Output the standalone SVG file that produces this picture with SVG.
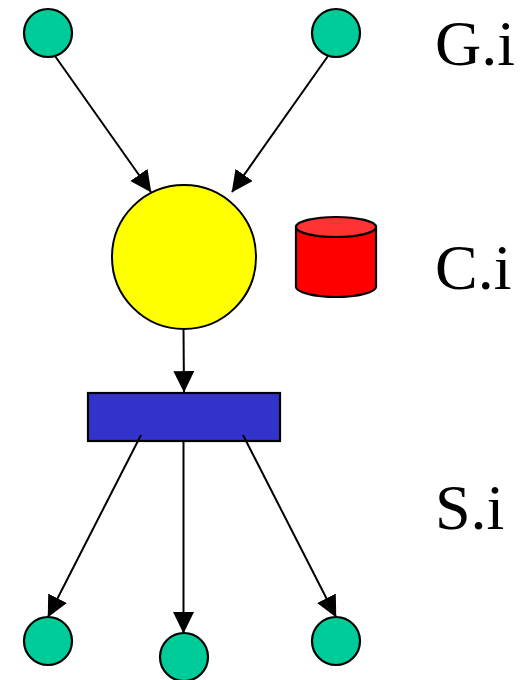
<svg xmlns="http://www.w3.org/2000/svg" width="526" height="680" viewBox="0 0 526 680">
<style>
.g{fill:#00cc99;stroke:#000;stroke-width:2.2}
.c{stroke:#000;stroke-width:2;fill:none;marker-end:url(#a)}
.t{font-family:"Liberation Serif","Times New Roman",serif;font-size:64px;fill:#000}
</style>
<defs>
<marker id="a" markerUnits="userSpaceOnUse" markerWidth="22" markerHeight="22" refX="20" refY="10.5" orient="auto" viewBox="0 0 21 21">
<path d="M0 0.5L20.5 10.5L0 20.5Z" fill="#000"/>
</marker>
</defs>
<rect width="526" height="680" fill="#fff"/>
<g id="node-g1"><circle class="g" cx="48" cy="33" r="24"/></g>
<g id="node-g2"><circle class="g" cx="336" cy="33" r="24"/></g>
<g id="node-c"><circle cx="184" cy="257" r="72" fill="#ffff00" stroke="#000" stroke-width="2"/></g>
<g id="node-cache">
<path d="M296 227V287C296 292 314 297 336 297S376 292 376 287V227Z" fill="#ff0000" stroke="#000" stroke-width="2.2"/>
<ellipse cx="336" cy="227" rx="40" ry="10" fill="#ff3333" stroke="#000" stroke-width="2.2"/>
</g>
<g id="node-s"><rect x="88" y="393" width="192" height="48" fill="#3333cc" stroke="#000" stroke-width="2.2"/></g>
<g id="node-r1"><circle class="g" cx="48" cy="641" r="24"/></g>
<g id="node-r2"><circle class="g" cx="184" cy="657" r="24"/></g>
<g id="node-r3"><circle class="g" cx="336" cy="641" r="24"/></g>
<g id="connectors">
<line class="c" x1="55" y1="56" x2="151" y2="192"/>
<line class="c" x1="328" y1="56" x2="232" y2="192"/>
<line class="c" x1="183.5" y1="329" x2="184" y2="392"/>
<line class="c" x1="141" y1="435" x2="48" y2="617"/>
<line class="c" x1="183.5" y1="441" x2="183.5" y2="633"/>
<line class="c" x1="243" y1="435" x2="336" y2="617"/>
</g>
<g id="labels">
<text class="t" x="435" y="65">G.i</text>
<text class="t" x="435" y="289">C.i</text>
<text class="t" x="435" y="529">S.i</text>
</g>
</svg>
